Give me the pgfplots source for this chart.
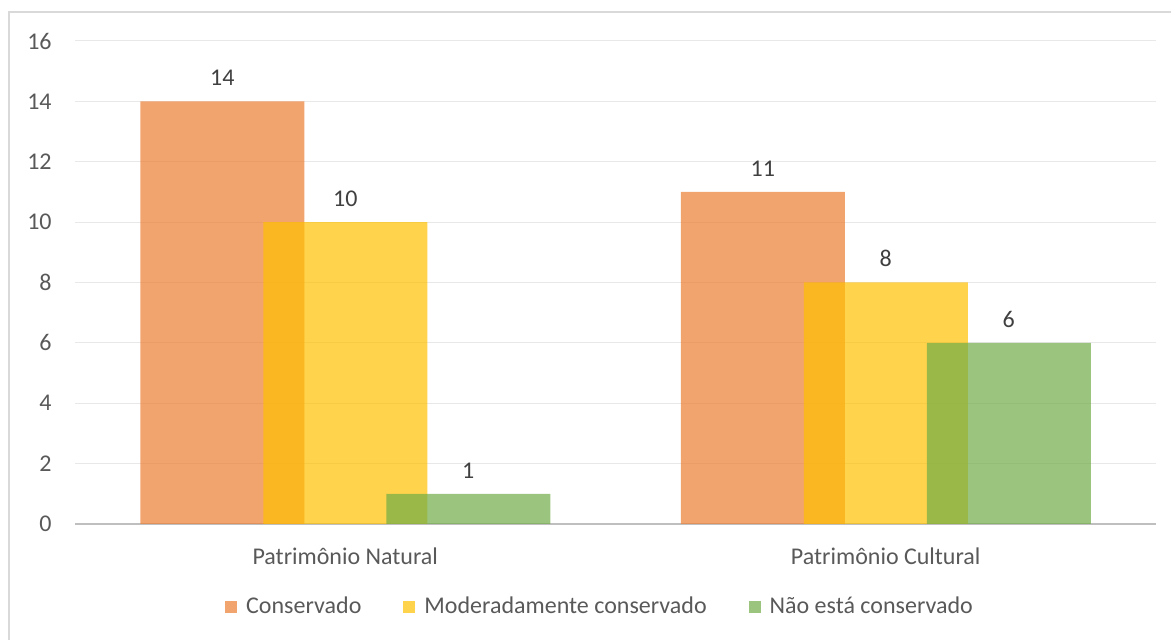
\documentclass[border=0pt]{standalone}
\usepackage{pgfplots}
\pgfplotsset{compat=1.18}
\usepackage{fontspec}
\setmainfont{Carlito}
\definecolor{cOr}{HTML}{ED7D31}
\definecolor{cYe}{HTML}{FFC000}
\definecolor{cGr}{HTML}{70AD47}
\definecolor{txt}{HTML}{595959}
\definecolor{lbl}{HTML}{404040}
\definecolor{gridc}{HTML}{E8E8E8}
\definecolor{axc}{HTML}{BFBFBF}
\definecolor{framec}{HTML}{D9D9D9}
\begin{document}
\fontsize{12}{14}\selectfont
\begin{tikzpicture}
\path[use as bounding box] (0,0) rectangle (585.5pt,320pt);
\draw[framec, line width=0.75pt] (4.5pt,0) -- (4.5pt,314pt) -- (586pt,314pt);
\begin{axis}[
  at={(37.5pt,58pt)}, anchor=south west,
  scale only axis, width=540.5pt, height=241.5pt,
  xmin=-0.5, xmax=1.5, ymin=0, ymax=16,
  xtick={0,1}, xticklabels={Patrimônio Natural, Patrimônio Cultural},
  ytick={0,2,...,16},
  /pgf/number format/assume math mode=true,
  tick style={draw=none},
  major tick length=0pt,
  axis lines*=left,
  y axis line style={draw=none},
  x axis line style={draw=axc, line width=1.25pt, -},
  ymajorgrids, grid style={gridc, line width=0.5pt},
  ticklabel style={text=txt},
  xticklabel style={inner sep=0pt},
  yticklabel style={inner sep=0pt},
  xticklabel shift=11.5pt,
  yticklabel shift=11.5pt,
  ybar, bar width=82pt,
  nodes near coords,
  every node near coord/.append style={text=lbl, inner sep=0pt, yshift=7.5pt, anchor=south, fill opacity=1},
  legend columns=3,
  legend style={at={(0.4866,-0.1718)}, anchor=center, draw=none, fill=none,
    text=txt, inner sep=0pt,
    /tikz/every even column/.append style={column sep=19pt},
    /tikz/every odd column/.append style={column sep=0pt}},
  legend image code/.code={\fill[#1] (0pt,-3pt) rectangle (6pt,3pt); \path (8.5pt,0pt);},
]
\addplot[fill=cOr, fill opacity=0.7, draw=none, bar shift=-61.5pt] coordinates {(0,14) (1,11)};
\addplot[fill=cYe, fill opacity=0.7, draw=none, bar shift=0pt] coordinates {(0,10) (1,8)};
\addplot[fill=cGr, fill opacity=0.7, draw=none, bar shift=61.5pt] coordinates {(0,1) (1,6)};
\legend{Conservado, Moderadamente conservado, Não está conservado}
\end{axis}
\end{tikzpicture}
\end{document}
